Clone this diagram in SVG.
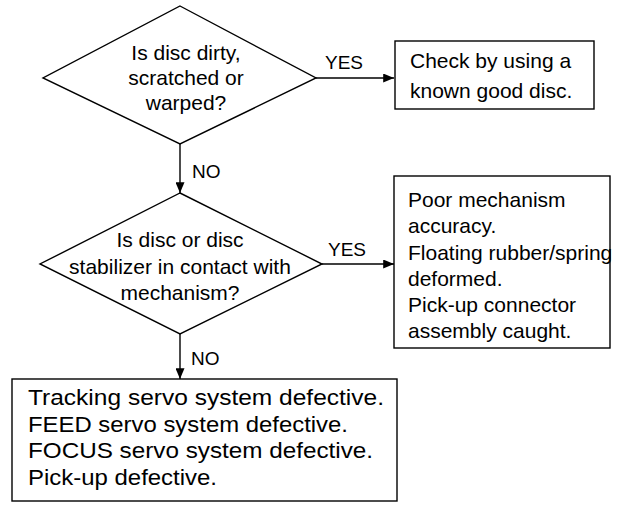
<svg xmlns="http://www.w3.org/2000/svg" width="621" height="505" viewBox="0 0 621 505">
<style>
.shape{fill:#fff;stroke:#000;stroke-width:1.4}
.t{font-family:"Liberation Sans",Arial,sans-serif;font-size:21px;fill:#000}
.b{font-family:"Liberation Sans",Arial,sans-serif;font-size:22px;fill:#000}
.m{text-anchor:middle}
.lbl{font-family:"Liberation Sans",Arial,sans-serif;font-size:19px;fill:#000}
.c{stroke:#000;stroke-width:1.4;fill:none}
</style>
<defs>
<marker id="ah" viewBox="0 0 12 10" refX="12" refY="5" markerWidth="12" markerHeight="9" markerUnits="userSpaceOnUse" orient="auto"><path d="M0,0 L12,5 L0,10 z" fill="#000"/></marker>
</defs>
<rect width="621" height="505" fill="#fff"/>
<g id="connectors">
<line class="c" x1="316" y1="78" x2="394" y2="78" marker-end="url(#ah)"/>
<line class="c" x1="180" y1="144" x2="180" y2="193" marker-end="url(#ah)"/>
<line class="c" x1="322" y1="264" x2="394" y2="264" marker-end="url(#ah)"/>
<line class="c" x1="180" y1="334" x2="180" y2="379" marker-end="url(#ah)"/>
<text class="lbl" x="325" y="69">YES</text>
<text class="lbl" x="192" y="178">NO</text>
<text class="lbl" x="328" y="256">YES</text>
<text class="lbl" x="191" y="365">NO</text>
</g>
<g id="q1">
<polygon class="shape" points="180,6 316,78 180,144 43,78"/>
<text class="t m" x="186" y="60">Is disc dirty,</text>
<text class="t m" x="186" y="85">scratched or</text>
<text class="t m" x="186" y="110">warped?</text>
</g>
<g id="a1">
<rect class="shape" x="395" y="41" width="199" height="68"/>
<text class="t" x="410" y="68">Check by using a</text>
<text class="t" x="410" y="98">known good disc.</text>
</g>
<g id="q2">
<polygon class="shape" points="180,193 322,264 180,334 40,264"/>
<text class="t m" x="180" y="247">Is disc or disc</text>
<text class="t m" x="180" y="274">stabilizer in contact with</text>
<text class="t m" x="180" y="300">mechanism?</text>
</g>
<g id="a2">
<rect class="shape" x="394" y="176" width="216" height="172"/>
<text class="t" x="408" y="207">Poor mechanism</text>
<text class="t" x="408" y="233">accuracy.</text>
<text class="t" x="408" y="260">Floating rubber/spring</text>
<text class="t" x="408" y="286">deformed.</text>
<text class="t" x="408" y="312">Pick-up connector</text>
<text class="t" x="408" y="338">assembly caught.</text>
</g>
<g id="a3">
<rect class="shape" x="12" y="379" width="385" height="122"/>
<text class="b" x="28" y="405" textLength="356" lengthAdjust="spacingAndGlyphs">Tracking servo system defective.</text>
<text class="b" x="28" y="432" textLength="320" lengthAdjust="spacingAndGlyphs">FEED servo system defective.</text>
<text class="b" x="28" y="458" textLength="345" lengthAdjust="spacingAndGlyphs">FOCUS servo system defective.</text>
<text class="b" x="28" y="485" textLength="189" lengthAdjust="spacingAndGlyphs">Pick-up defective.</text>
</g>
</svg>
